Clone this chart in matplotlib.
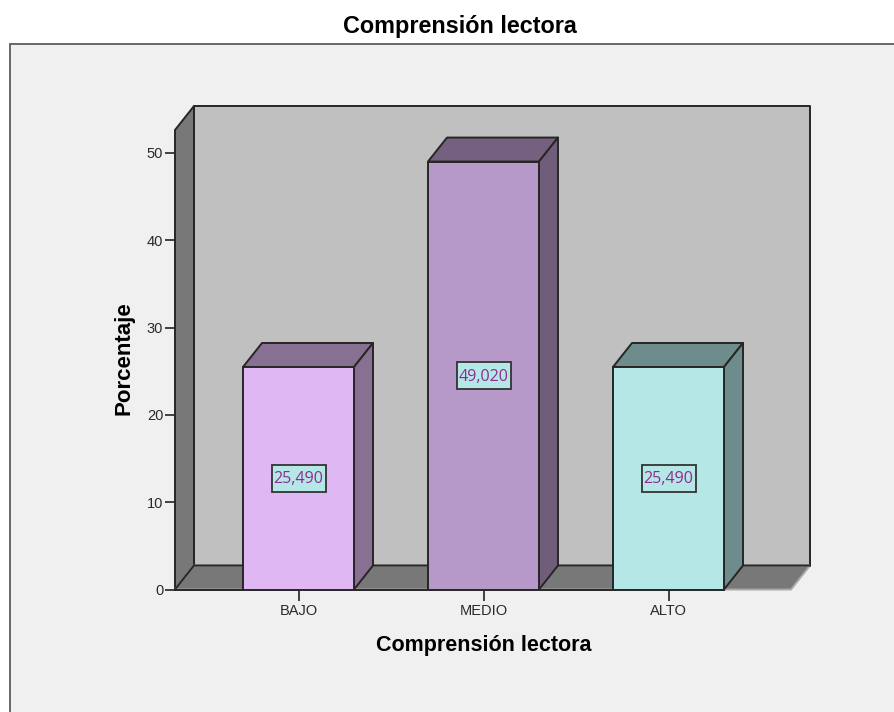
#!/usr/bin/env python3
"""
Comprension lectora - 3D look bar chart, SPSS style
"""

import matplotlib
matplotlib.use('Agg')
import matplotlib.pyplot as plt
from matplotlib.patches import Polygon, Rectangle

categories = ['BAJO', 'MEDIO', 'ALTO']
percentages = [25.490, 49.020, 25.490]
value_labels = ['25,490', '49,020', '25,490']
y_ticks = [0, 10, 20, 30, 40, 50]
front_colors = ['#dfb8f3', '#b699c8', '#b6e7e7']
side_colors = ['#887092', '#6f5d7a', '#6f8c8c']
top_colors = ['#887092', '#75607f', '#6f8c8c']

W, H = 894, 712
plt.rcParams['font.family'] = ['Liberation Sans', 'DejaVu Sans']

fig = plt.figure(figsize=(W / 100, H / 100), dpi=100, facecolor='white')

# grey panel behind the chart
panel = fig.add_axes([0, 0, 1, 1], zorder=0)
panel.set_xlim(0, W)
panel.set_ylim(H, 0)
panel.axis('off')
panel.add_patch(Rectangle((10, 44), W, H, facecolor='#f0f0f0', edgecolor='#5c5c5c', lw=1.3))

# axes box = front plane of the chart, pixel placing only
left, right, bottom, top = 175, 791, 589.5, 130
ax = fig.add_axes([left / W, 1 - bottom / H, (right - left) / W, (bottom - top) / H], zorder=1)
ax.patch.set_alpha(0)
px_x = 185.0
px_y = 8.73
ax.set_xlim((left - 298.5) / px_x, (right - 298.5) / px_x)
ax.set_ylim(0, (bottom - top) / px_y)
dx = 19 / px_x
dy = 24 / px_y
x0, x1 = ax.get_xlim()
y1 = ax.get_ylim()[1]
line = '#262626'


def poly(points, color, z, edge=line):
    ax.add_patch(Polygon(points, closed=True, facecolor=color, edgecolor=edge, lw=1.4,
                         joinstyle='round', clip_on=False, zorder=z))


bar_w = 111 / px_x

# back wall, side wall and floor
poly([(x0 + dx, dy), (x1 + dx, dy), (x1 + dx, y1 + dy), (x0 + dx, y1 + dy)], '#c0c0c0', 1)
poly([(x0, 0), (x0 + dx, dy), (x0 + dx, y1 + dy), (x0, y1)], '#787878', 2)
poly([(x0, 0), (x1, 0), (x1 + dx, dy), (x0 + dx, dy)], '#787878', 2, edge='#a8a8a8')
ax.plot([x0, x0 + dx, x1 + dx], [0, dy, dy], color=line, lw=1.4, clip_on=False, zorder=2.5)
ax.plot([x0, 2 + bar_w / 2], [0, 0], color=line, lw=1.4, clip_on=False, zorder=2.5)

for i, val in enumerate(percentages):
    a, b = i - bar_w / 2, i + bar_w / 2
    poly([(a, val), (b, val), (b + dx, val + dy), (a + dx, val + dy)], top_colors[i], 3)
    poly([(b, 0), (b + dx, dy), (b + dx, val + dy), (b, val)], side_colors[i], 3)
    ax.bar(i, val, width=bar_w, color=front_colors[i], edgecolor=line, linewidth=1.4, zorder=4)
    # value label box
    box_w, box_h = 54 / px_x, 27 / px_y
    ax.add_patch(Rectangle((i - box_w / 2, val / 2 - box_h / 2), box_w, box_h, facecolor='#b6e7e7',
                           edgecolor='#333333', lw=1.3, zorder=5))
    ax.text(i, val / 2 - 1 / px_y, value_labels[i], ha='center', va='center', fontsize=11.6,
            color='#8e2d91', family=['Open Sans', 'DejaVu Sans'], zorder=6)

for s in ax.spines.values():
    s.set_visible(False)
ax.set_xticks(range(len(categories)))
ax.set_xticklabels(categories)
ax.set_yticks(y_ticks)
ax.tick_params(axis='both', length=7, width=1.2, color='#222222', labelcolor='#2a2a2a',
               labelsize=10.5)
ax.tick_params(axis='x', length=8, pad=2.5)
ax.tick_params(axis='y', length=7.5, pad=1)

fig.text(460 / W, 1 - 33.3 / H, 'Comprensión lectora', ha='center', va='baseline',
         fontsize=16.8, fontweight='bold', color='black')
fig.text(483.5 / W, 1 - 651 / H, 'Comprensión lectora', ha='center', va='baseline',
         fontsize=15.5, fontweight='bold', color='black')
fig.text(130 / W, 1 - 358 / H, 'Porcentaje', ha='center', va='baseline', rotation=90,
         rotation_mode='anchor', fontsize=16, fontweight='bold', color='black')

fig.savefig('out.png', dpi=100)
